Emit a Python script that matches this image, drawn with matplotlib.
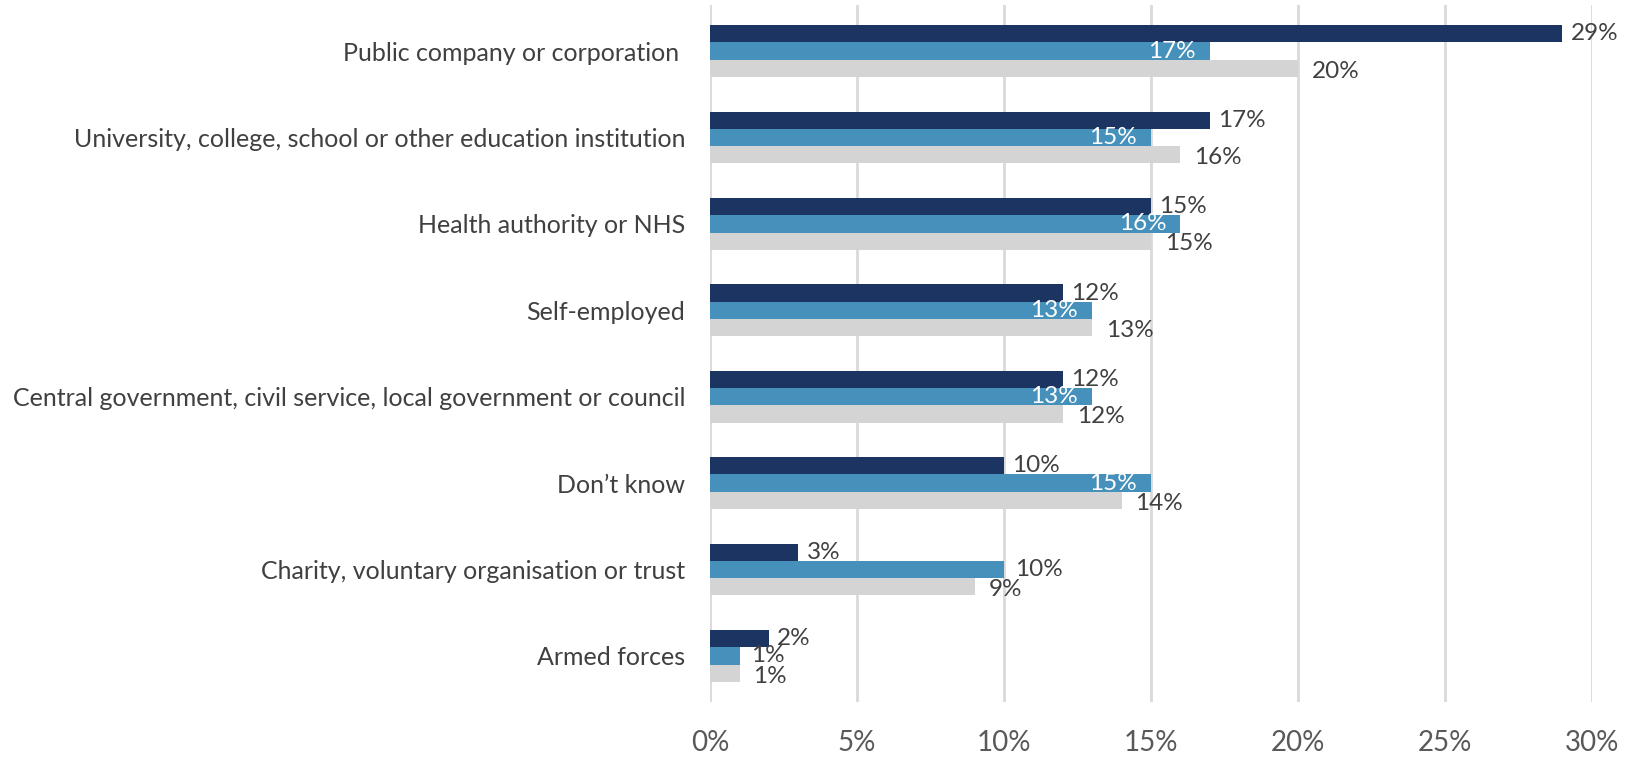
import numpy as np
import matplotlib
matplotlib.use("Agg")
import matplotlib.pyplot as plt

plt.rcParams['font.family'] = ['Lato', 'DejaVu Sans']

# categories, top to bottom
categories = [
    "Public company or corporation ",
    "University, college, school or other education institution",
    "Health authority or NHS",
    "Self-employed",
    "Central government, civil service, local government or council",
    "Don\u2019t know",
    "Charity, voluntary organisation or trust",
    "Armed forces",
]
# three series (percent)
series_dark = [29, 17, 15, 12, 12, 10, 3, 2]
series_blue = [17, 15, 16, 13, 13, 15, 10, 1]
series_grey = [20, 16, 15, 13, 12, 14, 9, 1]

colors = ['#1C3461', '#4591BB', '#D4D4D4']
text_col = '#404040'

fig = plt.figure(figsize=(16.29, 7.57), dpi=100)
ax = fig.add_axes([0.436, 0.073, 0.541, 0.920])

y = np.arange(len(categories))
h = 0.2

ax.barh(y - h, series_dark, height=h, color=colors[0], zorder=3)
ax.barh(y, series_blue, height=h, color=colors[1], zorder=3)
ax.barh(y + h, series_grey, height=h, color=colors[2], zorder=3)

# data labels
fs = 17.5
for i in range(len(categories)):
    ax.annotate(f"{series_dark[i]}%", (series_dark[i], y[i] - h), xytext=(6, 0),
                textcoords='offset points', ha='left', va='center',
                fontsize=fs, color=text_col, zorder=4)
    if series_blue[i] > 10:
        ax.annotate(f"{series_blue[i]}%", (series_blue[i], y[i]), xytext=(-10, 0),
                    textcoords='offset points', ha='right', va='center',
                    fontsize=fs, color='white', zorder=4)
    else:
        ax.annotate(f"{series_blue[i]}%", (series_blue[i], y[i]), xytext=(8, 0),
                    textcoords='offset points', ha='left', va='center',
                    fontsize=fs, color=text_col, zorder=4)
    ax.annotate(f"{series_grey[i]}%", (series_grey[i], y[i] + h), xytext=(10, -2),
                textcoords='offset points', ha='left', va='center',
                fontsize=fs, color=text_col, zorder=4)

ax.set_xlim(0, 30)
ax.set_ylim(len(categories) - 0.47, -0.53)
ax.set_xticks(np.arange(0, 31, 5))
ax.set_xticklabels([f"{v}%" for v in range(0, 31, 5)])
ax.set_yticks(y)
ax.set_yticklabels(categories)

ax.grid(axis='x', color='#D9D9D9', linewidth=2, zorder=0)
for s in ax.spines.values():
    s.set_visible(False)
ax.tick_params(axis='y', length=0, pad=18, labelsize=18, labelcolor=text_col)
ax.tick_params(axis='x', length=0, pad=20, labelsize=20, labelcolor='#595959')

fig.savefig("out.png", dpi=100)
